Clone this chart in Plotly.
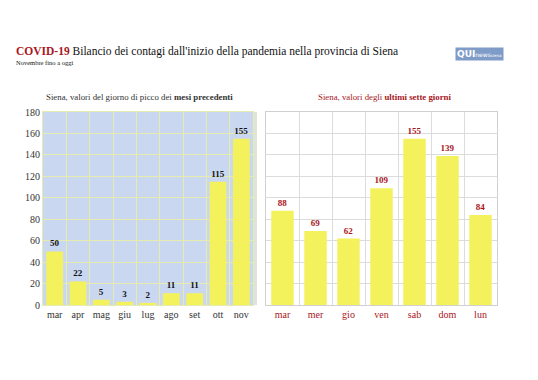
import plotly.graph_objects as go

months = ["mar", "apr", "mag", "giu", "lug", "ago", "set", "ott", "nov"]
peak_values = [50, 22, 5, 3, 2, 11, 11, 115, 155]
days = ["mar", "mer", "gio", "ven", "sab", "dom", "lun"]
week_values = [88, 69, 62, 109, 155, 139, 84]
y_ticks = [0, 20, 40, 60, 80, 100, 120, 140, 160, 180]

W, H = 538, 380
def px(x): return x / W
def py(y): return (H - y) / H

SERIF = "Liberation Serif"
YEL = "#f4f25c"
DARKRED = "#a8161c"
LGRID = "#e6ebb0"

fig = go.Figure()
fig.add_trace(go.Bar(
    x=months, y=peak_values, xaxis="x", yaxis="y",
    marker=dict(color=YEL, line=dict(width=0)), width=0.72,
    text=peak_values, textposition="outside",
    textfont=dict(family=SERIF, size=9, color="#111111"),
    texttemplate="<b>%{text}</b>", cliponaxis=False, showlegend=False,
))
fig.add_trace(go.Bar(
    x=days, y=week_values, xaxis="x2", yaxis="y2",
    marker=dict(color=YEL, line=dict(width=0)), width=0.68,
    text=week_values, textposition="outside",
    textfont=dict(family=SERIF, size=9, color=DARKRED),
    texttemplate="<b>%{text}</b>", cliponaxis=False, showlegend=False,
))

ydom = [py(305), py(112)]
fig.update_layout(
    width=W, height=H, margin=dict(l=0, r=0, t=0, b=0),
    paper_bgcolor="white", plot_bgcolor="white",
    font=dict(family=SERIF, color="#333333"),
    xaxis=dict(domain=[px(43), px(253)], anchor="y", type="category",
               tickson="boundaries", showgrid=True, gridcolor=LGRID, gridwidth=1,
               ticks="", tickangle=0, showline=True, linecolor=LGRID, mirror=True,
               automargin=False,
               tickfont=dict(family=SERIF, size=10, color="#333333")),
    yaxis=dict(domain=ydom, anchor="x", range=[0, 180], tickvals=y_ticks,
               showgrid=True, gridcolor=LGRID, gridwidth=1, zeroline=False,
               showline=True, linecolor=LGRID, mirror=True, ticks="",
               automargin=False,
               tickfont=dict(family=SERIF, size=10, color="#333333")),
    xaxis2=dict(domain=[px(266), px(497)], anchor="y2", type="category",
                tickson="boundaries", showgrid=True, gridcolor="#dcdcdc", gridwidth=1,
                ticks="", tickangle=0, showline=True, linecolor="#d0d0d0", mirror=True,
                automargin=False,
                tickfont=dict(family=SERIF, size=10, color=DARKRED)),
    yaxis2=dict(domain=ydom, anchor="x2", range=[0, 180], tickvals=y_ticks,
                showgrid=True, gridcolor="#dcdcdc", gridwidth=1, zeroline=False,
                showline=True, linecolor="#d0d0d0", mirror=True,
                automargin=False, showticklabels=False, ticks=""),
)
fig.update_layout(shapes=[
    dict(type="rect", xref="paper", yref="paper",
         x0=px(43), x1=px(253), y0=ydom[0], y1=ydom[1],
         fillcolor="#c9d7f1", line=dict(width=0), layer="below"),
    dict(type="rect", xref="paper", yref="paper",
         x0=px(253), x1=px(257), y0=ydom[0], y1=ydom[1],
         fillcolor="#dfe5d6", line=dict(width=0), layer="below"),
])

fig.add_annotation(xref="paper", yref="paper", x=px(14), y=py(52), xanchor="left", yanchor="middle",
                   showarrow=False,
                   text="<b><span style='color:#a8161c'>COVID-19</span></b> Bilancio dei contagi dall'inizio della pandemia nella provincia di Siena",
                   font=dict(family=SERIF, size=11.5, color="#111111"))
fig.add_annotation(xref="paper", yref="paper", x=px(14), y=py(63), xanchor="left", yanchor="middle",
                   showarrow=False, text="Novembre fino a oggi",
                   font=dict(family=SERIF, size=6.5, color="#111111"))
fig.add_annotation(xref="paper", yref="paper", x=px(479), y=py(54), xanchor="center", yanchor="middle",
                   showarrow=False,
                   text="<b>QUI</b><span style='font-size:6px'>news</span><span style='font-size:4px'>siena</span>",
                   font=dict(family="DejaVu Sans", size=9, color="white"),
                   bgcolor="#7f9cc8", borderpad=1)
fig.add_annotation(xref="paper", yref="paper", x=px(139), y=py(97), xanchor="center", yanchor="middle",
                   showarrow=False,
                   text="Siena, valori del giorno di picco dei <b>mesi precedenti</b>",
                   font=dict(family=SERIF, size=8.8, color="#333333"))
fig.add_annotation(xref="paper", yref="paper", x=px(384), y=py(97), xanchor="center", yanchor="middle",
                   showarrow=False,
                   text="Siena, valori degli <b>ultimi sette giorni</b>",
                   font=dict(family=SERIF, size=8.8, color=DARKRED))

fig.write_html("out.html", config={"displayModeBar": False},
               post_script="document.body.style.margin='0';document.body.style.overflow='hidden';")
